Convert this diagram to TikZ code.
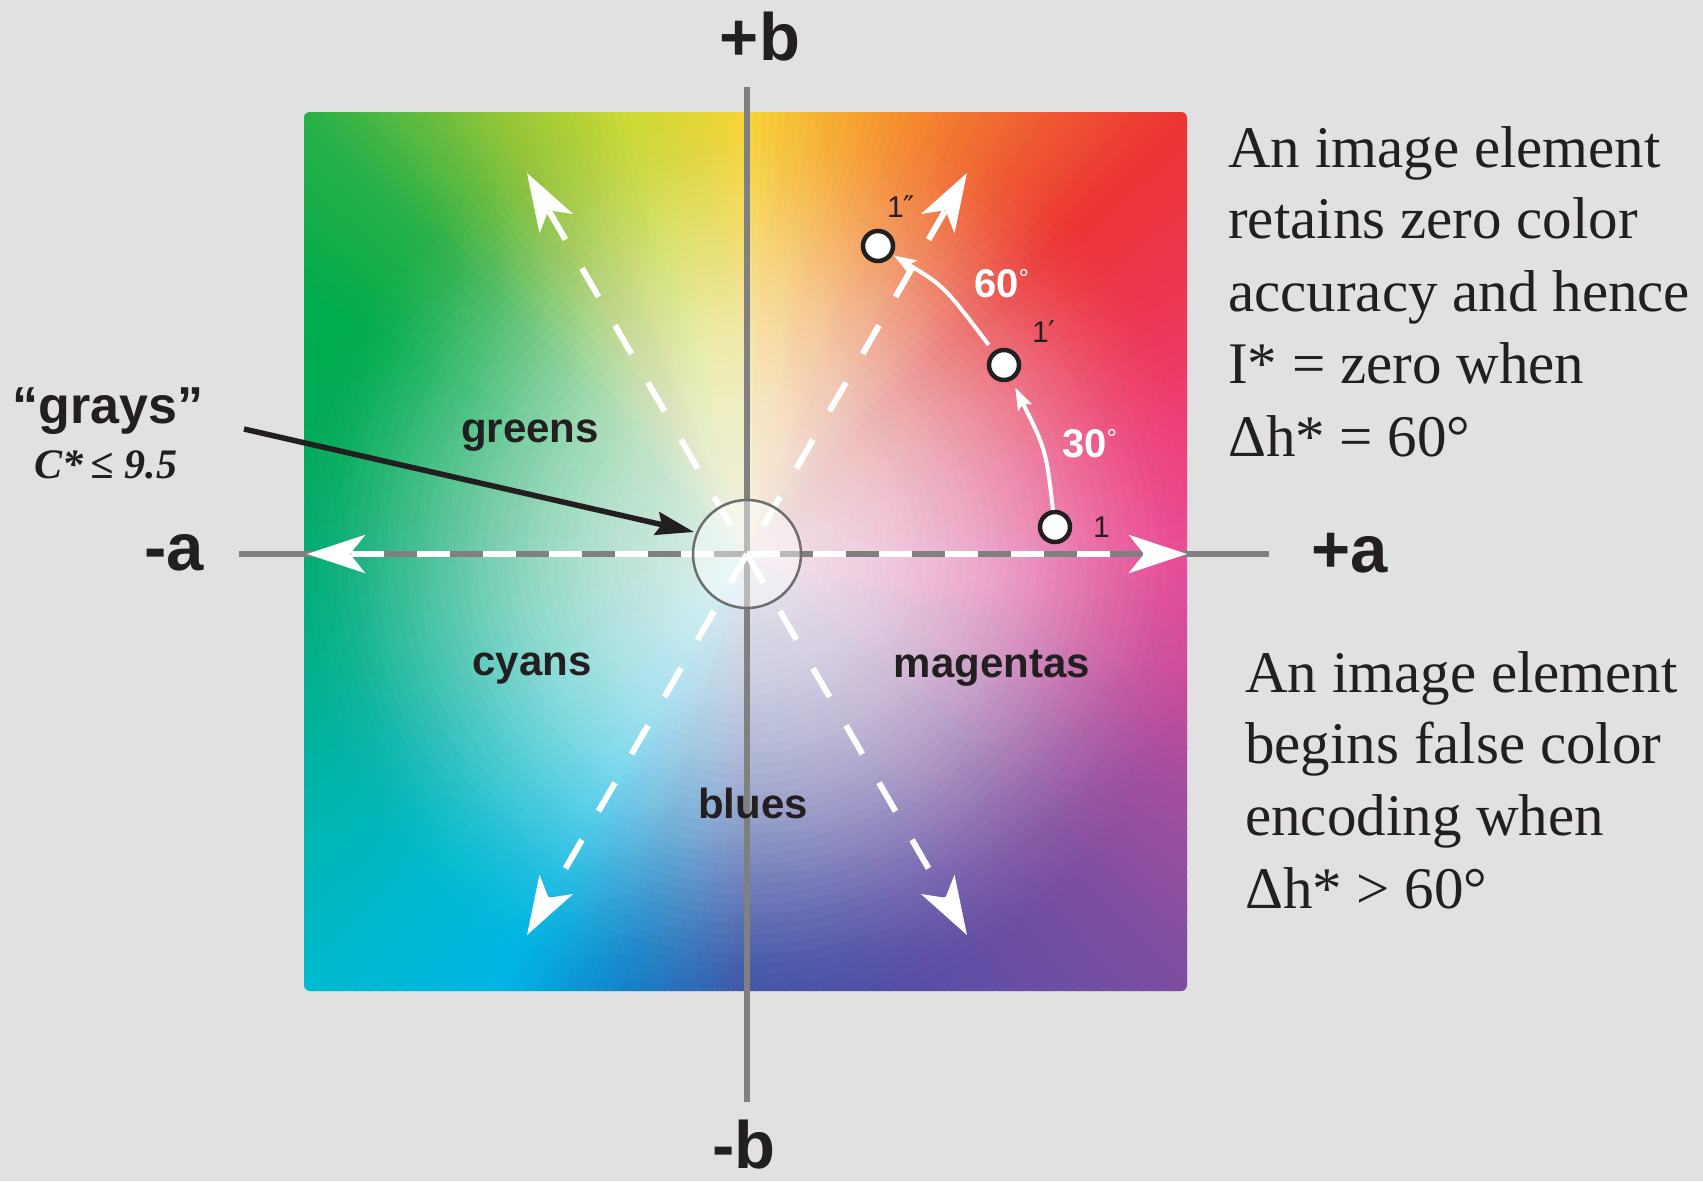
\documentclass[tikz,border=0pt]{standalone}
\usepackage{fontspec}
\setmainfont{Liberation Serif}
\setsansfont{Liberation Sans}
\newfontfamily\djv{DejaVu Sans}
\usetikzlibrary{arrows.meta,calc}

\definecolor{bgc}{RGB}{225,225,225}
\definecolor{axisgray}{RGB}{128,128,128}
\definecolor{circgray}{RGB}{110,110,110}
\definecolor{ink}{RGB}{35,31,32}
% hue table, every 15 degrees (screen angle, counter-clockwise from +a)
\definecolor{hc0}{RGB}{234,72,150}
\definecolor{hc1}{RGB}{237,62,122}
\definecolor{hc2}{RGB}{237,55,85}
\definecolor{hc3}{RGB}{236,52,52}
\definecolor{hc4}{RGB}{240,105,50}
\definecolor{hc5}{RGB}{246,158,46}
\definecolor{hc6}{RGB}{246,212,50}
\definecolor{hc7}{RGB}{205,218,52}
\definecolor{hc8}{RGB}{145,196,58}
\definecolor{hc9}{RGB}{40,176,72}
\definecolor{hc10}{RGB}{0,172,76}
\definecolor{hc11}{RGB}{0,170,88}
\definecolor{hc12}{RGB}{0,172,112}
\definecolor{hc13}{RGB}{0,176,140}
\definecolor{hc14}{RGB}{0,180,172}
\definecolor{hc15}{RGB}{0,186,206}
\definecolor{hc16}{RGB}{0,182,228}
\definecolor{hc17}{RGB}{20,128,200}
\definecolor{hc18}{RGB}{62,82,166}
\definecolor{hc19}{RGB}{78,78,165}
\definecolor{hc20}{RGB}{100,78,165}
\definecolor{hc21}{RGB}{124,78,160}
\definecolor{hc22}{RGB}{160,78,160}
\definecolor{hc23}{RGB}{205,75,155}
\definecolor{hc24}{RGB}{234,72,150}

\tikzset{
  axisline/.style={draw=axisgray, line width=6pt},
  ray/.style={white, line width=6pt, dash pattern=on 33pt off 33pt,
    -{Stealth[length=58pt,width=38pt,inset=15pt]}},
  pointer/.style={ink, line width=5.5pt, -{Stealth[length=38pt,width=23pt,inset=5pt]}},
  huept/.style={circle, draw=ink, line width=4.5pt, fill=white, minimum size=30pt, inner sep=0pt},
  warc/.style={white, line width=4pt, -{Stealth[length=22pt,width=15pt,inset=4pt]}},
  region/.style={font=\sffamily\bfseries\fontsize{42}{42}\selectfont, text=ink, anchor=base, inner sep=0pt},
  axislabel/.style={font=\sffamily\bfseries\fontsize{67}{67}\selectfont, text=ink, anchor=base, inner sep=0pt},
  ptlabel/.style={font=\sffamily\fontsize{30}{30}\selectfont, text=ink, anchor=base west, inner sep=0pt},
  deglabel/.style={font=\sffamily\bfseries\fontsize{40}{40}\selectfont, text=white, anchor=base west, inner sep=0pt},
  note/.style={font=\fontsize{59}{59}\selectfont, text=ink, anchor=base west, inner sep=0pt},
}

\begin{document}
\begin{tikzpicture}[x=1pt,y=-1pt]
\fill[bgc] (0,0) rectangle (1703,1181);
\useasboundingbox (0,0) rectangle (1703,1181);
\coordinate (O) at (747,554);

% colour plane
\begin{scope}
  \clip[rounded corners=6pt] (304,112) rectangle (1187,991);
  \foreach \i in {0,...,359}{
    \pgfmathtruncatemacro\hk{floor(\i/15)}
    \pgfmathtruncatemacro\hkk{\hk+1}
    \pgfmathtruncatemacro\hmix{round((\i+0.5-15*\hk)/15*100)}
    \colorlet{wc}{hc\hkk!\hmix!hc\hk}
    \fill[wc] (O) -- +(-\i:700) -- +({-\i-1.3}:700) -- cycle;
  }
  % whitish centre: stacked translucent discs
  \foreach \r in {480,470,...,10}{
    \pgfmathsetmacro\wop{1-exp(-10*0.0062*(1-(\r/480)^3))}
    \fill[white, fill opacity=\wop] (O) circle (\r);
  }
\end{scope}

% axes
\coordinate (vtop) at (747,87);
\coordinate (vbot) at (747,1102);
\coordinate (hl) at (239,554);
\coordinate (hr) at (1269,554);
\draw[axisline] (vtop) -- (vbot);
\draw[axisline] (hl) -- (hr);

% dashed hue directions
\coordinate (t0) at ($(O)+(0:440)$);
\coordinate (t60) at ($(O)+(-60:440)$);
\coordinate (t120) at ($(O)+(-120:440)$);
\coordinate (t180) at ($(O)+(180:440)$);
\coordinate (t240) at ($(O)+(-240:440)$);
\coordinate (t300) at ($(O)+(-300:440)$);
\draw[ray] (O) -- (t0);
\draw[ray, dash phase=33pt] (O) -- (t60);
\draw[ray, dash phase=33pt] (O) -- (t120);
\draw[ray, dash phase=33pt] (O) -- (t180);
\draw[ray] (O) -- (t240);
\draw[ray] (O) -- (t300);

% grays circle
\node[circle, minimum size=108pt, inner sep=0pt, fill=white, fill opacity=0.45,
      draw=circgray, line width=2.5pt] (gc) at (O) {};

% pointer from label
\coordinate (gstart) at (244,429);
\coordinate (gtip) at (694,532);
\draw[pointer] (gstart) -- (gtip);

% hue rotation points
\node[huept] (p1) at (1055,527) {};
\node[huept] (p2) at (1004,365) {};
\node[huept] (p3) at (878,246) {};
\draw[warc, shorten >=8pt] (p1) .. controls (1046,450) .. (p2);
\draw[warc, shorten <=8pt, shorten >=1pt] (p2) .. controls (944,286) .. (p3);

\node[ptlabel] (l1) at (1093,537) {1};
\node[ptlabel] (l2) at (1032,342) {1{\djv ′}};
\node[ptlabel] (l3) at (887,217) {1{\djv ″}};
\node[deglabel] (d60) at (974,297) {60\raisebox{10pt}{\mdseries\fontsize{26}{26}\selectfont °}};
\node[deglabel] (d30) at (1062,457) {30\raisebox{10pt}{\mdseries\fontsize{26}{26}\selectfont °}};

% region labels
\node[region] (greens) at (530,442) {greens};
\node[region] (cyans) at (532,675) {cyans};
\node[region] (magentas) at (992,677) {magentas};
\node[region] (blues) at (753,818) {blues};

% axis labels
\node[axislabel] (pb) at (760,60) {+b};
\node[axislabel] (mb) at (744,1168) {-b};
\node[axislabel] (ma) at (174,570) {-a};
\node[axislabel] (pa) at (1350,572) {+a};

% grays label
\node[anchor=base, inner sep=0pt, text=ink, font=\sffamily\bfseries\fontsize{52}{52}\selectfont] (grays) at (108,423) {“grays”};
\node[anchor=base, inner sep=0pt, text=ink, font=\bfseries\itshape\fontsize{42}{42}\selectfont] (cstar) at (106,478) {C*\thinspace≤ 9.5};

% notes
\node[note] (a1) at (1228,167) {An image element};
\node[note] (a2) at (1228,238) {retains zero color};
\node[note] (a3) at (1228,311) {accuracy and hence};
\node[note] (a4) at (1228,383) {I* = zero when};
\node[note] (a5) at (1228,456) {Δh* = 60°};
\node[note] (b1) at (1245,692) {An image element};
\node[note] (b2) at (1245,763) {begins false color};
\node[note] (b3) at (1245,835) {encoding when};
\node[note] (b4) at (1245,908) {Δh* > 60°};
\end{tikzpicture}
\end{document}
